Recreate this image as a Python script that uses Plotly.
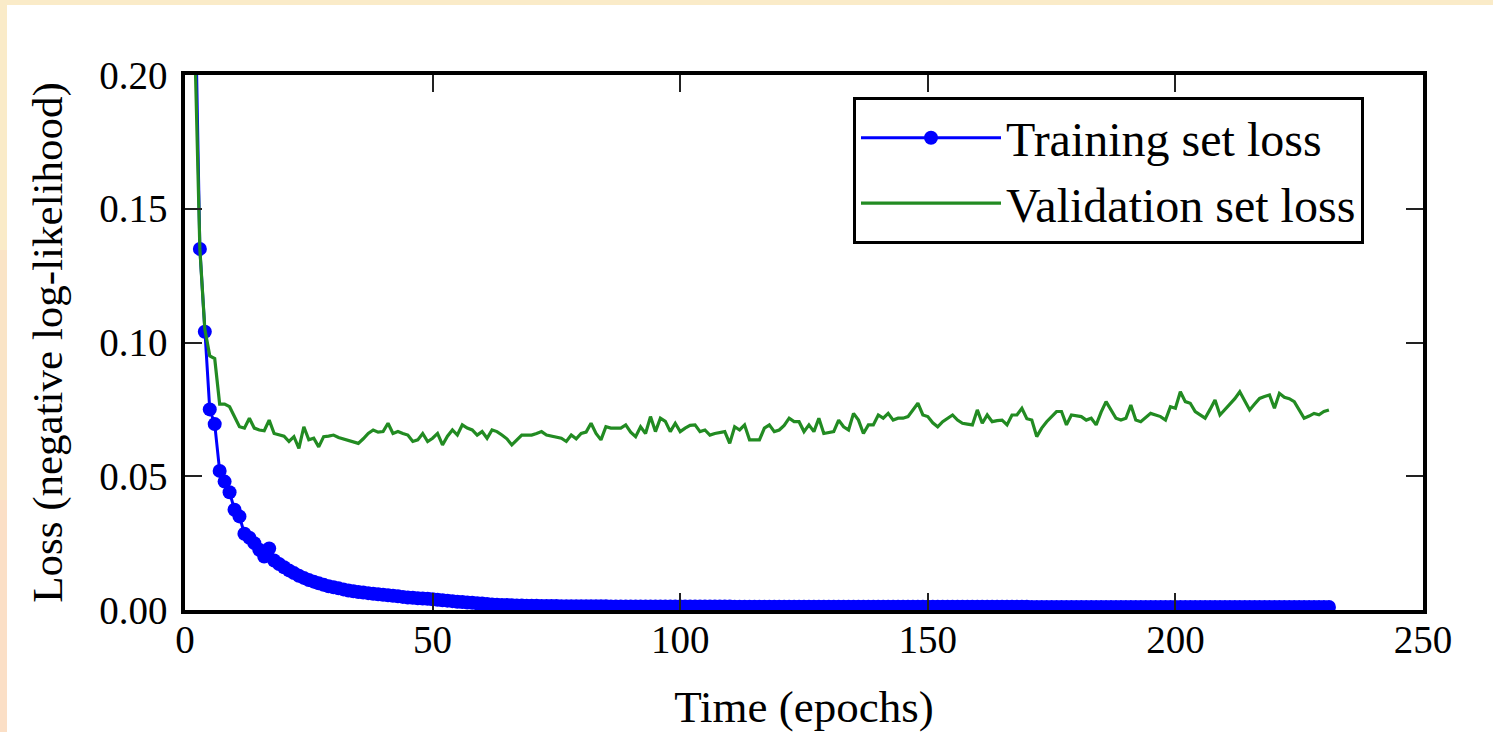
import plotly.graph_objects as go

epochs = list(range(1, 232))

train_loss = [
    0.42, 0.235, 0.135, 0.104, 0.075, 0.0695, 0.052, 0.048, 0.044, 0.0375,
    0.035, 0.0285, 0.027, 0.025, 0.0225, 0.020, 0.023, 0.0185, 0.0172, 0.016,
    0.0148, 0.0138, 0.0128, 0.0120, 0.0112, 0.0106, 0.0100, 0.0094, 0.0089, 0.0085,
    0.0081, 0.0077, 0.0073, 0.0070, 0.0067, 0.0065, 0.0063, 0.0061, 0.0059, 0.0057,
    0.0055, 0.0053, 0.0051, 0.0049, 0.0047, 0.0046, 0.0044, 0.0043, 0.0042, 0.0040,
    0.0038, 0.0036, 0.0035, 0.0033, 0.0031, 0.0030, 0.0028, 0.0027, 0.0025, 0.0024,
    0.0022, 0.0021, 0.0020, 0.0019, 0.0019, 0.0018, 0.0017, 0.0017, 0.0016, 0.0016,
    0.0016, 0.0015, 0.0015, 0.0015, 0.0015, 0.0014, 0.0014, 0.0014, 0.0014, 0.0014,
    0.0014, 0.0014, 0.0014, 0.0014, 0.0014, 0.0013, 0.0013, 0.0013, 0.0013, 0.0013,
    0.0013, 0.0013, 0.0013, 0.0013, 0.0013, 0.0013, 0.0013, 0.0013, 0.0013, 0.0013,
    0.0013, 0.0013, 0.0013, 0.0013, 0.0013, 0.0013, 0.0013, 0.0013, 0.0013, 0.0013,
    0.0012, 0.0012, 0.0012, 0.0012, 0.0012, 0.0012, 0.0012, 0.0012, 0.0012, 0.0012,
    0.0012, 0.0012, 0.0012, 0.0012, 0.0012, 0.0012, 0.0012, 0.0012, 0.0012, 0.0012,
    0.0012, 0.0012, 0.0012, 0.0012, 0.0012, 0.0012, 0.0012, 0.0012, 0.0012, 0.0012,
    0.0012, 0.0012, 0.0012, 0.0012, 0.0012, 0.0012, 0.0012, 0.0012, 0.0012, 0.0012,
    0.0012, 0.0012, 0.0012, 0.0012, 0.0012, 0.0012, 0.0012, 0.0012, 0.0012, 0.0012,
    0.0012, 0.0012, 0.0012, 0.0012, 0.0012, 0.0012, 0.0012, 0.0012, 0.0012, 0.0012,
    0.0011, 0.0011, 0.0011, 0.0011, 0.0011, 0.0011, 0.0011, 0.0011, 0.0011, 0.0011,
    0.0011, 0.0011, 0.0011, 0.0011, 0.0011, 0.0011, 0.0011, 0.0011, 0.0011, 0.0011,
    0.0011, 0.0011, 0.0011, 0.0011, 0.0011, 0.0011, 0.0011, 0.0011, 0.0011, 0.0011,
    0.0011, 0.0011, 0.0011, 0.0011, 0.0011, 0.0011, 0.0011, 0.0011, 0.0011, 0.0011,
    0.0011, 0.0011, 0.0011, 0.0011, 0.0011, 0.0011, 0.0011, 0.0011, 0.0011, 0.0011,
    0.0011, 0.0011, 0.0011, 0.0011, 0.0011, 0.0011, 0.0011, 0.0011, 0.0011, 0.0011,
    0.0011,
]

valid_loss = [
    0.26, 0.21, 0.135, 0.105, 0.095, 0.094, 0.077, 0.077, 0.076, 0.072,
    0.0685, 0.068, 0.0717, 0.068, 0.0673, 0.067, 0.071, 0.066, 0.0654, 0.065,
    0.063, 0.0648, 0.0604, 0.0685, 0.0636, 0.0642, 0.061, 0.0648, 0.065, 0.0654,
    0.0645, 0.064, 0.0635, 0.063, 0.0623, 0.064, 0.066, 0.0673, 0.0665, 0.0667,
    0.0698, 0.066, 0.0667, 0.066, 0.0654, 0.063, 0.0636, 0.066, 0.063, 0.0642,
    0.066, 0.0617, 0.065, 0.0673, 0.0654, 0.0692, 0.068, 0.0673, 0.0654, 0.0667,
    0.0642, 0.0673, 0.0667, 0.0654, 0.064, 0.0617, 0.0635, 0.0654, 0.0654, 0.0654,
    0.066, 0.0667, 0.0654, 0.065, 0.0645, 0.0642, 0.063, 0.0654, 0.064, 0.066,
    0.0665, 0.0698, 0.066, 0.0636, 0.0685, 0.068, 0.068, 0.068, 0.0692, 0.0665,
    0.0648, 0.0685, 0.066, 0.0723, 0.0667, 0.0717, 0.0705, 0.0667, 0.0698, 0.0667,
    0.068, 0.069, 0.0692, 0.0667, 0.0673, 0.0654, 0.066, 0.0665, 0.0667, 0.0623,
    0.0685, 0.0673, 0.0692, 0.0636, 0.0636, 0.0636, 0.068, 0.0692, 0.0667, 0.0673,
    0.069, 0.0717, 0.0704, 0.0704, 0.0667, 0.0692, 0.0667, 0.0717, 0.066, 0.0665,
    0.0667, 0.071, 0.0685, 0.0673, 0.0735, 0.071, 0.066, 0.0692, 0.0692, 0.0729,
    0.0717, 0.0735, 0.071, 0.0717, 0.0717, 0.0723, 0.075, 0.0773, 0.0729, 0.0723,
    0.07, 0.0685, 0.0704, 0.0715, 0.0729, 0.071, 0.0698, 0.0695, 0.0692, 0.0748,
    0.0698, 0.0729, 0.0704, 0.0708, 0.071, 0.0692, 0.0729, 0.0729, 0.0754, 0.0715,
    0.071, 0.0648, 0.068, 0.0704, 0.0725, 0.0742, 0.0742, 0.0692, 0.0729, 0.0725,
    0.0723, 0.071, 0.0717, 0.0692, 0.074, 0.0779, 0.075, 0.0717, 0.071, 0.0717,
    0.0766, 0.071, 0.0704, 0.072, 0.0735, 0.0729, 0.0723, 0.071, 0.076, 0.0754,
    0.0816, 0.0779, 0.0773, 0.0742, 0.0729, 0.0717, 0.075, 0.0785, 0.0729, 0.075,
    0.0773, 0.079, 0.0816, 0.078, 0.0748, 0.077, 0.0791, 0.0798, 0.0804, 0.0754,
    0.081, 0.0795, 0.079, 0.0779, 0.075, 0.0717, 0.0725, 0.0735, 0.073, 0.0742,
    0.0748,
]

x_ticks = [0, 50, 100, 150, 200, 250]
y_ticks = [0.00, 0.05, 0.10, 0.15, 0.20]

FONT = "Liberation Serif"
W, H = 1493, 732
ML, MR, MT, MB = 185, 70, 75, 122
PW, PH = W - ML - MR, H - MT - MB


def px_x(p):
    return (p - ML) / PW


def px_y(p):
    return (H - MB - p) / PH


fig = go.Figure()
fig.add_trace(go.Scatter(
    x=epochs, y=train_loss, mode="lines+markers", name="Training set loss",
    line=dict(color="#0000ff", width=3),
    marker=dict(color="#0000ff", size=14, line=dict(width=0)),
))
fig.add_trace(go.Scatter(
    x=epochs, y=valid_loss, mode="lines", name="Validation set loss",
    line=dict(color="#228b22", width=3.2),
))

axis_common = dict(
    showgrid=False, zeroline=False, showline=True, linecolor="black", linewidth=3.5,
    mirror="ticks", ticks="inside", ticklen=17, tickwidth=2, tickcolor="#222222",
    tickfont=dict(family=FONT, size=39, color="black"),
)

fig.update_xaxes(
    range=[0, 250], tickvals=x_ticks, ticktext=[str(v) for v in x_ticks],
    ticklabelstandoff=-8,
    title=dict(text="Time (epochs)", font=dict(family=FONT, size=45, color="black"), standoff=44),
    **axis_common,
)
fig.update_yaxes(
    range=[0, 0.2], tickvals=y_ticks, ticktext=[f"{v:.2f}" for v in y_ticks],
    ticklabelstandoff=6,
    title=dict(text="Loss (negative log-likelihood)", font=dict(family=FONT, size=43, color="black"), standoff=24),
    **axis_common,
)

shapes = [
    dict(type="rect", xref="paper", yref="paper", x0=px_x(0), x1=px_x(W), y0=px_y(5), y1=px_y(0),
         fillcolor="#faebc8", line=dict(width=0), layer="below"),
    dict(type="rect", xref="paper", yref="paper", x0=px_x(0), x1=px_x(7), y0=px_y(250), y1=px_y(0),
         fillcolor="#faebc8", line=dict(width=0), layer="below"),
    dict(type="rect", xref="paper", yref="paper", x0=px_x(0), x1=px_x(7), y0=px_y(500), y1=px_y(250),
         fillcolor="#fae4c6", line=dict(width=0), layer="below"),
    dict(type="rect", xref="paper", yref="paper", x0=px_x(0), x1=px_x(7), y0=px_y(H), y1=px_y(500),
         fillcolor="#fbdfc6", line=dict(width=0), layer="below"),
]

fig.update_layout(
    width=W, height=H,
    margin=dict(l=ML, r=MR, t=MT, b=MB, autoexpand=False),
    paper_bgcolor="white", plot_bgcolor="white",
    shapes=shapes,
    showlegend=True,
    legend=dict(
        x=px_x(853), y=px_y(97), xanchor="left", yanchor="top",
        bgcolor="white", bordercolor="black", borderwidth=3,
        font=dict(family=FONT, size=48, color="black"),
        itemwidth=140, tracegroupgap=0,
    ),
)

fig.write_html(
    "out.html",
    config={"displayModeBar": False},
    post_script="document.body.style.margin='0px';document.body.style.overflow='hidden';",
)
